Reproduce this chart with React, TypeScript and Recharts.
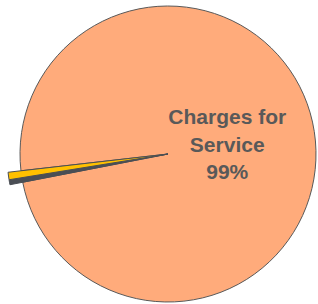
import { PieChart, Pie, Cell } from 'recharts';

const categories = ['Other Revenue', 'Grants', 'Charges for Service'];
const values = [0.5, 0.75, 99.0];
const COLORS = ['#4A4E54', '#FFC000', '#FFAB7B'];

const data = categories.map((name, i) => ({ name, value: values[i] }));

const RAD = Math.PI / 180;

const renderLabel = (props: any) => {
  const { cx, cy, midAngle, outerRadius, percent, index } = props;
  if (index !== 2) return null;
  const r = outerRadius * 0.405;
  const x = cx + r * Math.cos(-midAngle * RAD);
  const y = cy + r * Math.sin(-midAngle * RAD);
  const lines = ['Charges for', 'Service', `${Math.round(percent * 100)}%`];
  return (
    <text
      x={x}
      y={y}
      textAnchor="middle"
      fill="#595959"
      fontFamily="'Liberation Sans', Arial, sans-serif"
      fontWeight="bold"
      fontSize={21}
    >
      {lines.map((t, i) => (
        <tspan key={i} x={x} y={y + (i - 1) * 27.5 + 7}>
          {t}
        </tspan>
      ))}
    </text>
  );
};

export default function App() {
  return (
    <div style={{ width: 318, height: 304 }}>
      <style>{'body{margin:0}'}</style>
      <PieChart width={318} height={304} margin={{ top: 0, right: 0, bottom: 0, left: 0 }}>
        <Pie
          data={data}
          dataKey="value"
          nameKey="name"
          cx={168}
          cy={154}
          outerRadius={148}
          startAngle={191}
          endAngle={191 - 360}
          stroke="#595959"
          strokeWidth={1}
          labelLine={false}
          label={renderLabel}
          isAnimationActive={false}
        >
          {data.map((_, i) => (
            <Cell key={`c-${i}`} fill={COLORS[i]} />
          ))}
        </Pie>
        <Pie
          data={data}
          dataKey="value"
          nameKey="name"
          cx={168}
          cy={154}
          outerRadius={161}
          startAngle={191}
          endAngle={191 - 360}
          isAnimationActive={false}
        >
          {data.map((_, i) => (
            <Cell
              key={`x-${i}`}
              fill={i === 2 ? 'none' : COLORS[i]}
              stroke={i === 2 ? 'none' : '#4A4E54'}
              strokeWidth={1}
            />
          ))}
        </Pie>
      </PieChart>
    </div>
  );
}
